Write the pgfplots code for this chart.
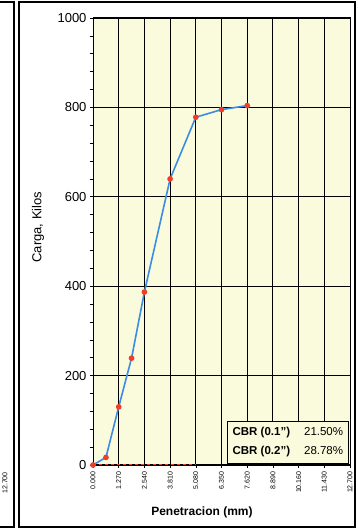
\documentclass[border=0pt]{standalone}
\usepackage{pgfplots}
\pgfplotsset{compat=1.18}
\usepackage{fontspec}
\setmainfont{Liberation Sans}
\definecolor{bgy}{HTML}{FAFADC}
\definecolor{lineblue}{HTML}{3C8CE6}
\definecolor{mkred}{HTML}{F03C28}
\begin{document}
\begin{tikzpicture}[x=1pt,y=1pt]
\useasboundingbox (0,0) rectangle (357,529);
\draw[line width=1.2pt] (19,2) rectangle (355,527);
\draw[line width=1.3pt] (-5,2) rectangle (14,527);
\node[rotate=90,font=\fontsize{7}{8}\selectfont] at (5,46) {12.700};
\begin{axis}[
 at={(93pt,64pt)}, anchor=south west, scale only axis,
 width=257pt, height=447pt,
 xmin=0, xmax=12.7, ymin=0, ymax=1000,
 clip=false,
 axis background/.style={fill=bgy},
 xtick={0,1.27,2.54,3.81,5.08,6.35,7.62,8.89,10.16,11.43,12.7},
 xticklabels={0.000,1.270,2.540,3.810,5.080,6.350,7.620,8.890,10.160,11.430,12.700},
 xticklabel style={rotate=90, anchor=east, font=\fontsize{7}{8}\selectfont},
 ytick={0,200,...,1000},
 minor y tick num=4,
 yticklabel style={font=\fontsize{13}{15}\selectfont, /pgf/number format/1000 sep={}},
 /pgf/number format/assume math mode=true,
 grid=major, major grid style={black, line width=0.9pt},
 axis line style={black, line width=1pt},
 tick style={black, line width=0.6pt},
 major tick length=3pt, minor tick length=3pt,
 tick align=outside,
 xtick pos=bottom, ytick pos=left,
 xlabel={\textbf{Penetracion (mm)}},
 xlabel style={font=\fontsize{12}{14}\selectfont, at={(axis description cs:0.424,-0.107)}, anchor=center},
 ylabel={Carga, Kilos},
 ylabel style={font=\fontsize{13}{15}\selectfont, at={(axis description cs:-0.214,0.532)}, anchor=center},
]
\addplot[mkred, dashed, line width=1pt, forget plot] coordinates {(0,0) (5.08,0)};
\addplot[lineblue, line width=1.6pt, mark=*, mark size=2pt, mark options={draw=mkred, fill=mkred, solid}]
 coordinates {(0,0) (0.64,17) (1.27,130) (1.905,239) (2.54,387) (3.81,640) (5.08,778) (6.35,795) (7.62,804)};
\node[draw=black, line width=1.2pt, fill=bgy, anchor=south east, inner xsep=5pt, inner ysep=5pt, font=\fontsize{11.5}{13}\selectfont] at (axis description cs:0.995,0.002)
 {\begin{tabular}{@{}l@{\hspace{14pt}}r@{}}\textbf{CBR (0.1")} & 21.50\% \\[6pt] \textbf{CBR (0.2")} & 28.78\%\end{tabular}};
\end{axis}
\end{tikzpicture}
\end{document}
